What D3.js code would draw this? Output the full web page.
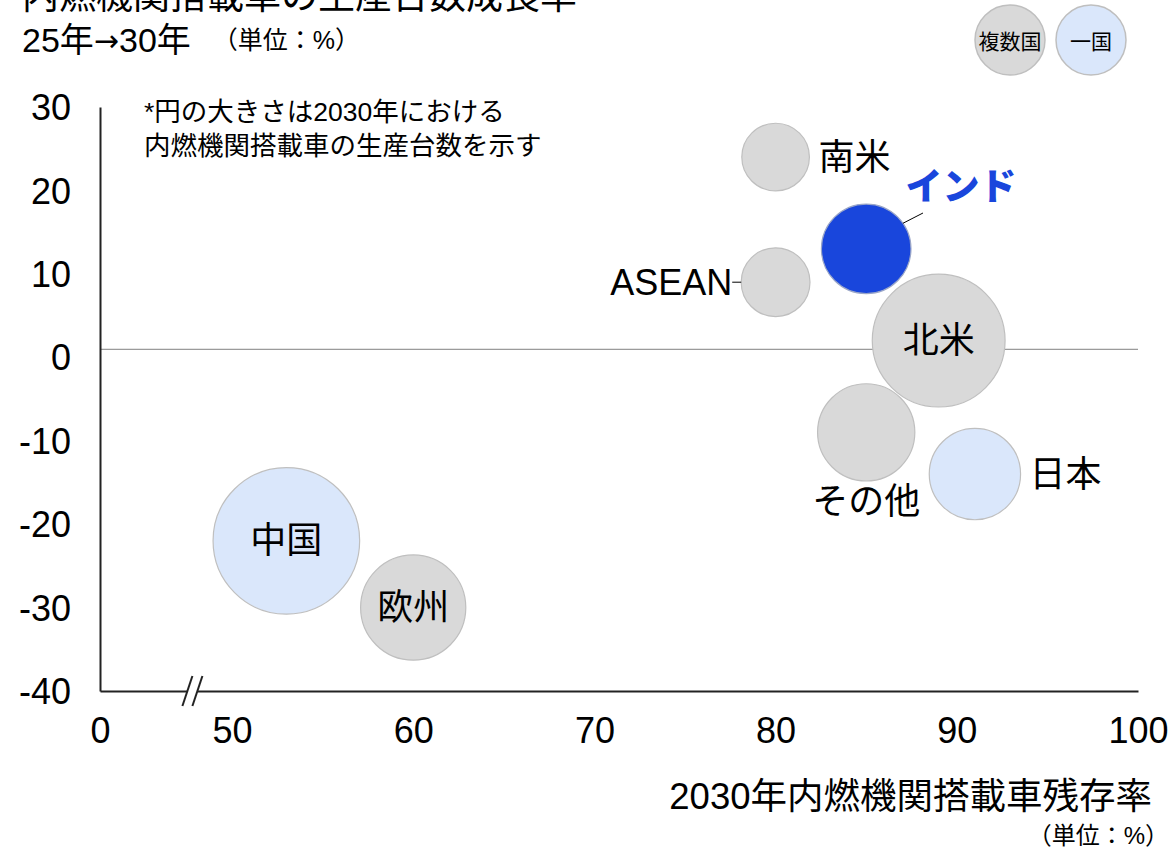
<!DOCTYPE html>
<html>
<head>
<meta charset="utf-8">
<script src="https://cdn.jsdelivr.net/npm/d3@7"></script>
<style>
body { margin: 0; background: #fff; }
text { font-family: "Liberation Sans", "Noto Sans CJK JP", sans-serif; fill: #000; }
</style>
</head>
<body>
<div id="chart"></div>
<script>
// data
const regions  = ['南米', 'インド', 'ASEAN', '北米', 'その他', '日本', '中国', '欧州']
const survival = [80, 85, 80, 89, 85, 91, 53, 60]          // 2030年内燃機関搭載車残存率 (%)
const growth   = [24, 13, 9, 2, -9, -14, -22, -30]         // 25年→30年 生産台数成長率 (%)
const volume   = [285, 500, 295, 1100, 590, 520, 1340, 690] // 2030年 生産台数 (relative)
const kind     = ['multi', 'single', 'multi', 'multi', 'multi', 'single', 'single', 'multi']
const labelAt  = ['right', 'callout', 'left', 'inside', 'below', 'right', 'inside', 'inside']
const highlight = 'インド'
const xTicks = [0, 50, 60, 70, 80, 90, 100]
const yTicks = [30, 20, 10, 0, -10, -20, -30, -40]
const legendItems = ['複数国', '一国']

const width = 1171, height = 849
const colors = { multi: '#d9d9d9', single: '#dae7fb', hi: '#1946dc' }

const svg = d3.select('#chart').append('svg')
    .attr('width', width)
    .attr('height', height)

// x axis is broken between 0 and 50
const xScale = d3.scaleLinear().domain([0, 50, 100]).range([100, 232, 1138])
const yScale = d3.scaleLinear().domain([-40, 30]).range([691, 107])
const rScale = d3.scaleSqrt().domain([0, 1340]).range([0, 73.3])

// titles
svg.append('text')
    .attr('x', 22).attr('y', 9)
    .style('font-size', '37px')
    .text('内燃機関搭載車の生産台数成長率')
const t2 = svg.append('text')
    .attr('x', 22).attr('y', 40)
    .attr('dominant-baseline', 'central')
    .style('font-size', '34px')
t2.append('tspan').text('25年')
t2.append('tspan').style('font-family', '"DejaVu Sans"').style('font-size', '30px').text('→')
t2.append('tspan').text('30年')
t2.append('tspan').attr('dx', 22).style('font-size', '25px').text('（単位：%）')

// note
svg.append('text')
    .attr('x', 144).attr('y', 112)
    .attr('dominant-baseline', 'central')
    .style('font-size', '26.5px')
    .text('*円の大きさは2030年における')
svg.append('text')
    .attr('x', 144).attr('y', 146)
    .attr('dominant-baseline', 'central')
    .style('font-size', '26.5px')
    .text('内燃機関搭載車の生産台数を示す')

// legend
const legend = svg.append('g')
legendItems.forEach((d, i) => {
    const cx = 1010 + i * 81
    legend.append('circle')
        .attr('cx', cx).attr('cy', 40).attr('r', 35)
        .attr('fill', i == 0 ? colors.multi : colors.single)
        .attr('stroke', '#bfbfbf').attr('stroke-width', 1.5)
    legend.append('text')
        .attr('x', cx).attr('y', 41)
        .attr('text-anchor', 'middle')
        .attr('dominant-baseline', 'central')
        .style('font-size', '21px')
        .text(d)
})

// zero reference line (sits a little above the 0 label in the original)
svg.append('line')
    .attr('x1', xScale(0)).attr('x2', xScale(100))
    .attr('y1', yScale(0) - 8).attr('y2', yScale(0) - 8)
    .attr('stroke', '#808080').attr('stroke-width', 1)

// axes
const xaxis = d3.axisBottom(xScale).tickValues(xTicks).tickSize(0).tickPadding(20)
    .tickFormat(d => String(d))
const yaxis = d3.axisLeft(yScale).tickValues(yTicks).tickSize(0).tickPadding(29)
    .tickFormat(d => String(d))

const gx = svg.append('g')
    .attr('transform', `translate(0,${yScale(-40)})`)
    .call(xaxis)
const gy = svg.append('g')
    .attr('transform', `translate(${xScale(0)},0)`)
    .call(yaxis)
;[gx, gy].forEach(g => {
    g.select('.domain').attr('stroke', '#222').attr('stroke-width', 2)
    g.selectAll('text').style('font-size', '36px').attr('fill', '#000')
        .style('font-family', '"Liberation Sans", "Noto Sans CJK JP", sans-serif')
})
gx.selectAll('text').attr('dy', '0.9em')
gy.selectAll('text').attr('dy', '0.35em')

// axis break marks
const breakX = xScale(35)
const by = yScale(-40)
svg.append('rect')
    .attr('x', breakX - 5).attr('y', by - 3).attr('width', 10).attr('height', 6)
    .attr('fill', '#fff')
;[-5, 5].forEach(dx => {
    svg.append('line')
        .attr('x1', breakX + dx - 5).attr('y1', by + 15)
        .attr('x2', breakX + dx + 5).attr('y2', by - 15)
        .attr('stroke', '#222').attr('stroke-width', 2)
})

// axis title
svg.append('text')
    .attr('x', 1152).attr('y', 796)
    .attr('text-anchor', 'end')
    .attr('dominant-baseline', 'central')
    .style('font-size', '36.5px')
    .text('2030年内燃機関搭載車残存率')
svg.append('text')
    .attr('x', 1169).attr('y', 835)
    .attr('text-anchor', 'end')
    .attr('dominant-baseline', 'central')
    .style('font-size', '24px')
    .text('（単位：%）')

// bubbles
const data = regions.map((name, i) => ({
    name, x: survival[i], y: growth[i], v: volume[i], kind: kind[i], at: labelAt[i]
}))

svg.append('g').selectAll('circle')
    .data(data)
    .join('circle')
    .attr('cx', d => xScale(d.x))
    .attr('cy', d => yScale(d.y))
    .attr('r', d => rScale(d.v))
    .attr('fill', d => d.name == highlight ? colors.hi : colors[d.kind])
    .attr('stroke', d => d.name == highlight ? '#9aa6c8' : '#bfbfbf')
    .attr('stroke-width', 1.2)

// labels
const labels = svg.append('g')
data.forEach(d => {
    const cx = xScale(d.x), cy = yScale(d.y), r = rScale(d.v)
    const t = labels.append('text')
        .attr('dominant-baseline', 'central')
        .style('font-size', '36px')
        .text(d.name)
    if (d.at == 'inside') {
        t.attr('x', cx).attr('y', cy).attr('text-anchor', 'middle')
    } else if (d.at == 'right') {
        t.attr('x', cx + r + 9).attr('y', cy)
    } else if (d.at == 'left') {
        t.attr('x', cx - r - 9).attr('y', cy).attr('text-anchor', 'end')
        labels.append('line')
            .attr('x1', cx - r - 9).attr('x2', cx - r)
            .attr('y1', cy).attr('y2', cy)
            .attr('stroke', '#000').attr('stroke-width', 1)
    } else if (d.at == 'below') {
        t.attr('x', cx).attr('y', cy + r + 20).attr('text-anchor', 'middle')
    } else if (d.at == 'callout') {
        t.attr('x', cx + r + 50).attr('y', cy - 61)
            .attr('text-anchor', 'middle')
            .style('font-weight', '900')
            .style('font-size', '37px')
            .style('fill', colors.hi)
        labels.append('line')
            .attr('x1', cx + r * 0.82).attr('y1', cy - r * 0.57)
            .attr('x2', cx + r + 12).attr('y2', cy - r * 0.8)
            .attr('stroke', '#000').attr('stroke-width', 1)
    }
})
</script>
</body>
</html>
